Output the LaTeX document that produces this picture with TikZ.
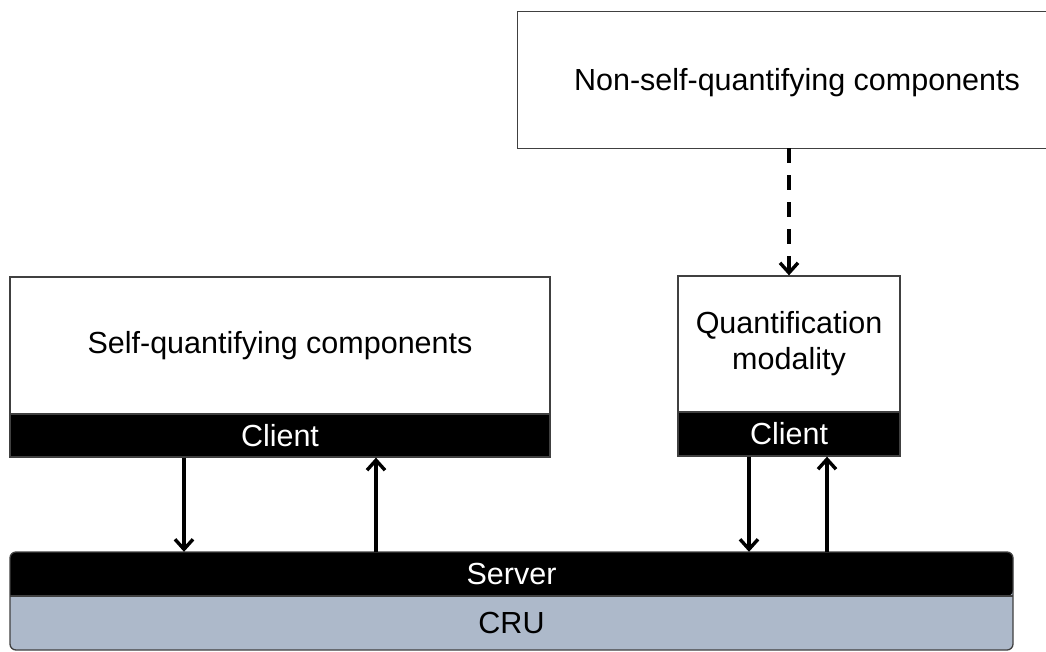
\documentclass[tikz,border=0pt]{standalone}
\usepackage{fontspec}
\setmainfont{Liberation Sans}
\usetikzlibrary{arrows.meta}
\definecolor{cru}{HTML}{ADB9CA}
\definecolor{edge}{HTML}{404040}
\begin{document}
\begin{tikzpicture}[x=1pt,y=-1pt,
  txt/.style={font=\fontsize{30.5}{36}\selectfont, inner sep=0pt, align=center},
  whitebox/.style={txt, draw=edge, line width=1.3pt, fill=white, minimum width=#1},
  blackbox/.style={txt, draw=edge, line width=1.3pt, fill=black, text=white, minimum width=#1},
  arr/.style={line width=3.4pt, -{Straight Barb[length=10pt,width=18pt,line width=3.4pt]}},
  dasharr/.style={arr, dash pattern=on 15pt off 12pt}]
\useasboundingbox (0,0) rectangle (1046,651);
% top box (runs past the right edge of the picture)
\node[txt, minimum width=558, minimum height=136] (nsq) at (797,80) {};
\node[txt] (nsqt) at (797,83) {Non-self-quantifying components};
\draw[edge, line width=1.3pt] (nsq.north -| 1047,0) -- (nsq.north west) -- (nsq.south west) -- (nsq.south -| 1047,0);
% self-quantifying
\node[whitebox=540, minimum height=137] (sq) at (280,345.5) {Self-quantifying components};
\node[blackbox=540, minimum height=43] (c1) at (280,435.5) {Client};
% quantification modality
\node[whitebox=222, minimum height=136] (qm) at (789,344) {Quantification\\[0pt]modality};
\node[blackbox=222, minimum height=44] (c2) at (789,434) {Client};
% server / CRU
\fill[cru, rounded corners=6pt] (10,552) rectangle (1013,650);
\fill[black, rounded corners=6pt] (10,596) -- (10,552) -- (1013,552) -- (1013,596) [sharp corners] -- cycle;
\draw[edge, line width=1.3pt] (10,596) -- (1013,596);
\draw[edge, line width=1.3pt, rounded corners=6pt] (10,552) rectangle (1013,650);
\node[txt, text=white, minimum width=1003, minimum height=44] (server) at (511.5,574) {Server};
\node[txt, minimum width=1003, minimum height=54] (cru) at (511.5,623) {CRU};
% arrows
\coordinate (a1) at (184,0);
\coordinate (a2) at (376,0);
\coordinate (a3) at (749,0);
\coordinate (a4) at (827,0);
\coordinate (a5) at (789,0);
\draw[arr] (c1.south -| a1) -- (server.north -| a1);
\draw[arr] (server.north -| a2) -- (c1.south -| a2);
\draw[arr] (c2.south -| a3) -- (server.north -| a3);
\draw[arr] (server.north -| a4) -- (c2.south -| a4);
\draw[dasharr] (nsq.south -| a5) -- (qm.north -| a5);
\end{tikzpicture}
\end{document}
